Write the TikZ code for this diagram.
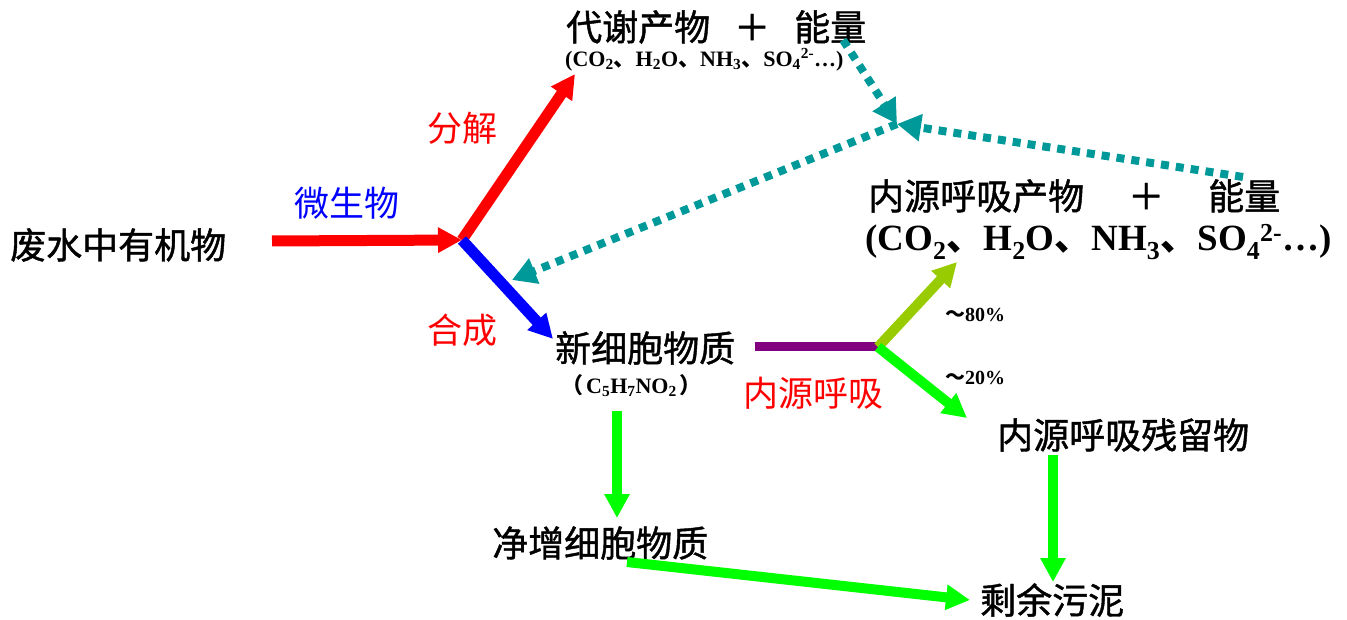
\documentclass[tikz,border=0pt]{standalone}
\usepackage{fontspec}
\usetikzlibrary{arrows.meta}
\newfontfamily\cjk{Noto Sans CJK SC}
\newfontfamily\cjkb{Noto Sans CJK SC}[FakeBold=1.2]
\newfontfamily\tnr{Liberation Serif}
\definecolor{teal1}{RGB}{0,153,153}
\definecolor{purp}{RGB}{128,0,128}
\definecolor{ygreen}{RGB}{153,204,0}
\definecolor{bgreen}{RGB}{0,255,0}
\tikzset{
  lbl/.style={font=\cjk\fontsize{35}{40}\selectfont, inner sep=0pt},
  blbl/.style={font=\cjkb\fontsize{36}{40}\selectfont, inner sep=0pt, text=black},
  formula/.style={font=\tnr\bfseries\fontsize{22}{24}\selectfont, inner sep=0pt},
  pct/.style={font=\tnr\bfseries\fontsize{20}{24}\selectfont, inner sep=0pt},
  bigformula/.style={font=\tnr\bfseries\fontsize{37}{40}\selectfont, inner sep=0pt},
  fat/.style={line width=11pt, -{Triangle[length=24pt,width=24pt]}, shorten >=0pt},
  dotarrow/.style={teal1, line width=8pt, dash pattern=on 8pt off 7pt, -{Triangle[length=24pt,width=26pt]}},
}
\newcommand{\dun}{{\cjk 、}}
\begin{document}
\begin{tikzpicture}[x=1pt,y=-1pt]
\useasboundingbox (0,0) rectangle (1347,620);
% text nodes
\node[blbl,anchor=west] (waste) at (10,245) {废水中有机物};
\node[lbl,text=blue] (micro) at (347,203) {微生物};
\node[lbl,text=red] (fenjie) at (462,128) {分解};
\node[lbl,text=red] (hecheng) at (462,330) {合成};
\node[blbl,anchor=west] (meta) at (566,27) {代谢产物\hspace{24pt}＋\hspace{24pt}能量};
\node[formula,anchor=west] (metaf) at (565,60) {(CO\textsubscript{2}\dun H\textsubscript{2}O\dun NH\textsubscript{3}\dun SO\textsubscript{4}\textsuperscript{2-}…)};
\node[blbl,anchor=west] (endo) at (868,196) {内源呼吸产物\hspace{44pt}＋\hspace{44pt}能量};
\node[bigformula,anchor=west] (endof) at (865,242) {(CO\textsubscript{2}\dun H\textsubscript{2}O\dun NH\textsubscript{3}\dun SO\textsubscript{4}\textsuperscript{2-}…)};
\node[blbl,anchor=west] (cell) at (555,348) {新细胞物质};
\node[formula,anchor=west] (cellf) at (561,386) {{\cjk （}\hspace{3pt}C\textsubscript{5}H\textsubscript{7}NO\textsubscript{2}\hspace{3pt}{\cjk ）}};
\node[lbl,text=red] (neiyuan) at (813,393) {内源呼吸};
\node[pct] (p80) at (975,315) {{\cjk ～}80\%};
\node[pct] (p20) at (975,378) {{\cjk ～}20\%};
\node[blbl,anchor=west] (resid) at (997,435) {内源呼吸残留物};
\node[blbl,anchor=west] (net) at (492,543) {净增细胞物质};
\node[blbl,anchor=west] (sludge) at (980,600) {剩余污泥};
% coordinates
\coordinate (a0) at (272,241);
\coordinate (j) at (462,240);
\coordinate (up) at (575,74);
\coordinate (dn) at (553,339);
\coordinate (t0) at (843,40);
\coordinate (tm) at (897,124);
\coordinate (t1) at (1243,177);
\coordinate (t2) at (512,280);
\coordinate (p0) at (755,347);
\coordinate (p1) at (878,347);
\coordinate (g80) at (957,262);
\coordinate (g20) at (967,418);
\coordinate (c0) at (617,411);
\coordinate (c1) at (617,518);
\coordinate (n0) at (627,562);
\coordinate (n1) at (970,600);
\coordinate (r0) at (1053,455);
\coordinate (r1) at (1053,582);
% connectors
\draw[fat,red] (a0) -- (j);
\draw[fat,red] (j) -- (up);
\draw[fat,blue] (j) -- (dn);
\draw[dotarrow] (t0) -- (tm);
\draw[dotarrow] (t1) -- (tm);
\draw[dotarrow] (tm) -- (t2);
\draw[purp,line width=9pt] (p0) -- (p1);
\draw[fat,ygreen,line width=10pt] (p1) -- (g80);
\draw[fat,bgreen,line width=10pt] (p1) -- (g20);
\draw[fat,bgreen,line width=10pt] (c0) -- (c1);
\draw[fat,bgreen,line width=10pt] (n0) -- (n1);
\draw[fat,bgreen,line width=10pt] (r0) -- (r1);
\end{tikzpicture}
\end{document}
